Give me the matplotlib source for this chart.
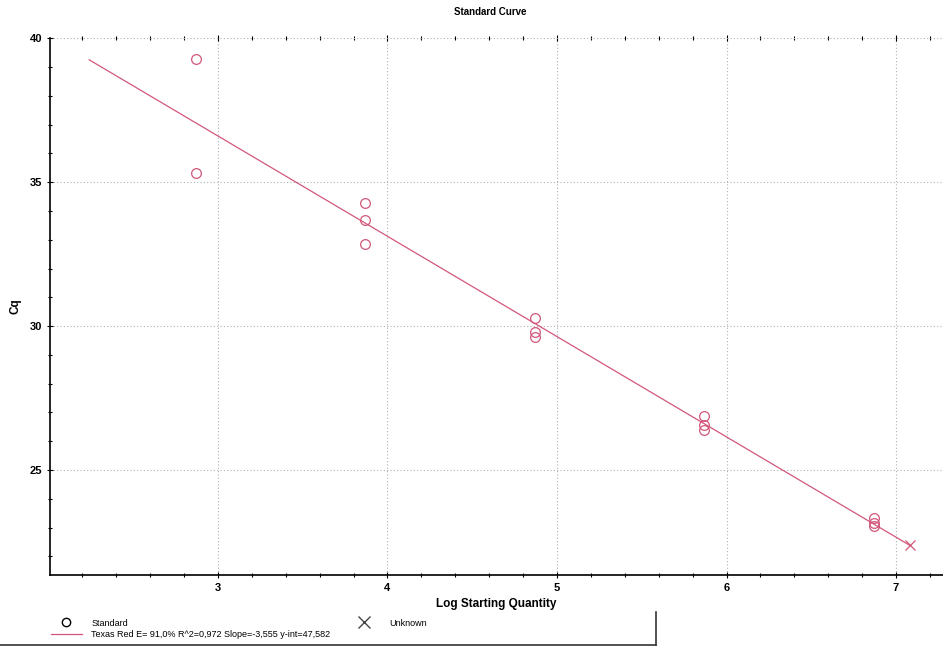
import matplotlib
matplotlib.use("Agg")
import matplotlib.pyplot as plt
from matplotlib.lines import Line2D
from matplotlib.ticker import MultipleLocator

plt.rcParams['font.family'] = ['Liberation Sans Narrow', 'Liberation Sans', 'DejaVu Sans']

# standard points (log starting quantity, Cq)
std_x = [2.87, 2.87, 3.87, 3.87, 3.87, 4.87, 4.87, 4.87, 5.87, 5.87, 5.87, 6.87, 6.87, 6.87]
std_y = [39.27, 35.33, 34.29, 33.67, 32.84, 30.28, 29.78, 29.62, 26.88, 26.57, 26.40, 23.32, 23.15, 23.05]

# unknown sample
unk_x = [7.08]
unk_y = [22.39]

# fitted line end points
fit_x = [2.24, 7.08]
fit_y = [39.25, 22.39]

fit_label = 'Texas Red E= 91,0% R^2=0,972 Slope=-3,555 y-int=47,582'

red = '#d2577a'

fig = plt.figure(figsize=(9.43, 6.47), dpi=100)
ax = fig.add_axes([0.053, 0.111, 0.947, 0.830])

ax.plot(fit_x, fit_y, color=red, lw=0.9, zorder=2)
ax.plot(std_x, std_y, 'o', mfc='none', mec=red, ms=7, mew=0.9, zorder=3)
ax.plot(unk_x, unk_y, 'x', color=red, ms=7, mew=0.9, zorder=3)

ax.set_xlim(2.009, 7.277)
ax.set_ylim(21.35, 40)
ax.xaxis.set_major_locator(MultipleLocator(1))
ax.xaxis.set_minor_locator(MultipleLocator(0.2))
ax.yaxis.set_major_locator(MultipleLocator(5))
ax.yaxis.set_minor_locator(MultipleLocator(1))

ax.grid(True, which='major', color='#b0b0b0', linestyle=(0, (1, 2)), lw=0.8)
ax.spines['top'].set_visible(False)
ax.spines['right'].set_visible(False)
ax.spines['left'].set_linewidth(1.2)
ax.spines['bottom'].set_linewidth(1.2)
ax.tick_params(which='both', direction='inout', top=True, labeltop=False, length=4, width=0.8)
ax.tick_params(which='minor', length=3)
for lab in ax.get_xticklabels() + ax.get_yticklabels():
    lab.set_fontweight('bold')
    lab.set_fontsize(8)

ax.set_xlabel('Log Starting Quantity', fontsize=8.5, fontweight='bold', labelpad=4)
ax.set_ylabel('Cq', fontsize=8.5, fontweight='bold', labelpad=6)
fig.text(0.52, 0.982, 'Standard Curve', ha='center', va='center', fontsize=7, fontweight='bold')

# legend below the plot
handles = [
    Line2D([], [], marker='o', ls='none', mfc='none', mec='black', ms=6, mew=1),
    Line2D([], [], color=red, lw=0.9),
    Line2D([], [], marker='x', ls='none', color='#444444', ms=8, mew=1),
]
labels = ['Standard', fit_label, 'Unknown']
fig.legend(handles, labels, ncol=2, loc='lower left', bbox_to_anchor=(0.045, 0.0),
           frameon=False, fontsize=6.5, handlelength=3.5, handletextpad=1.0,
           columnspacing=2.0, labelspacing=0.25)

# partial legend frame
fig.add_artist(Line2D([0.0, 0.696], [0.003, 0.003], color='#333333', lw=1.2))
fig.add_artist(Line2D([0.696, 0.696], [0.003, 0.054], color='#333333', lw=1.2))

fig.savefig('out.png', dpi=100)
